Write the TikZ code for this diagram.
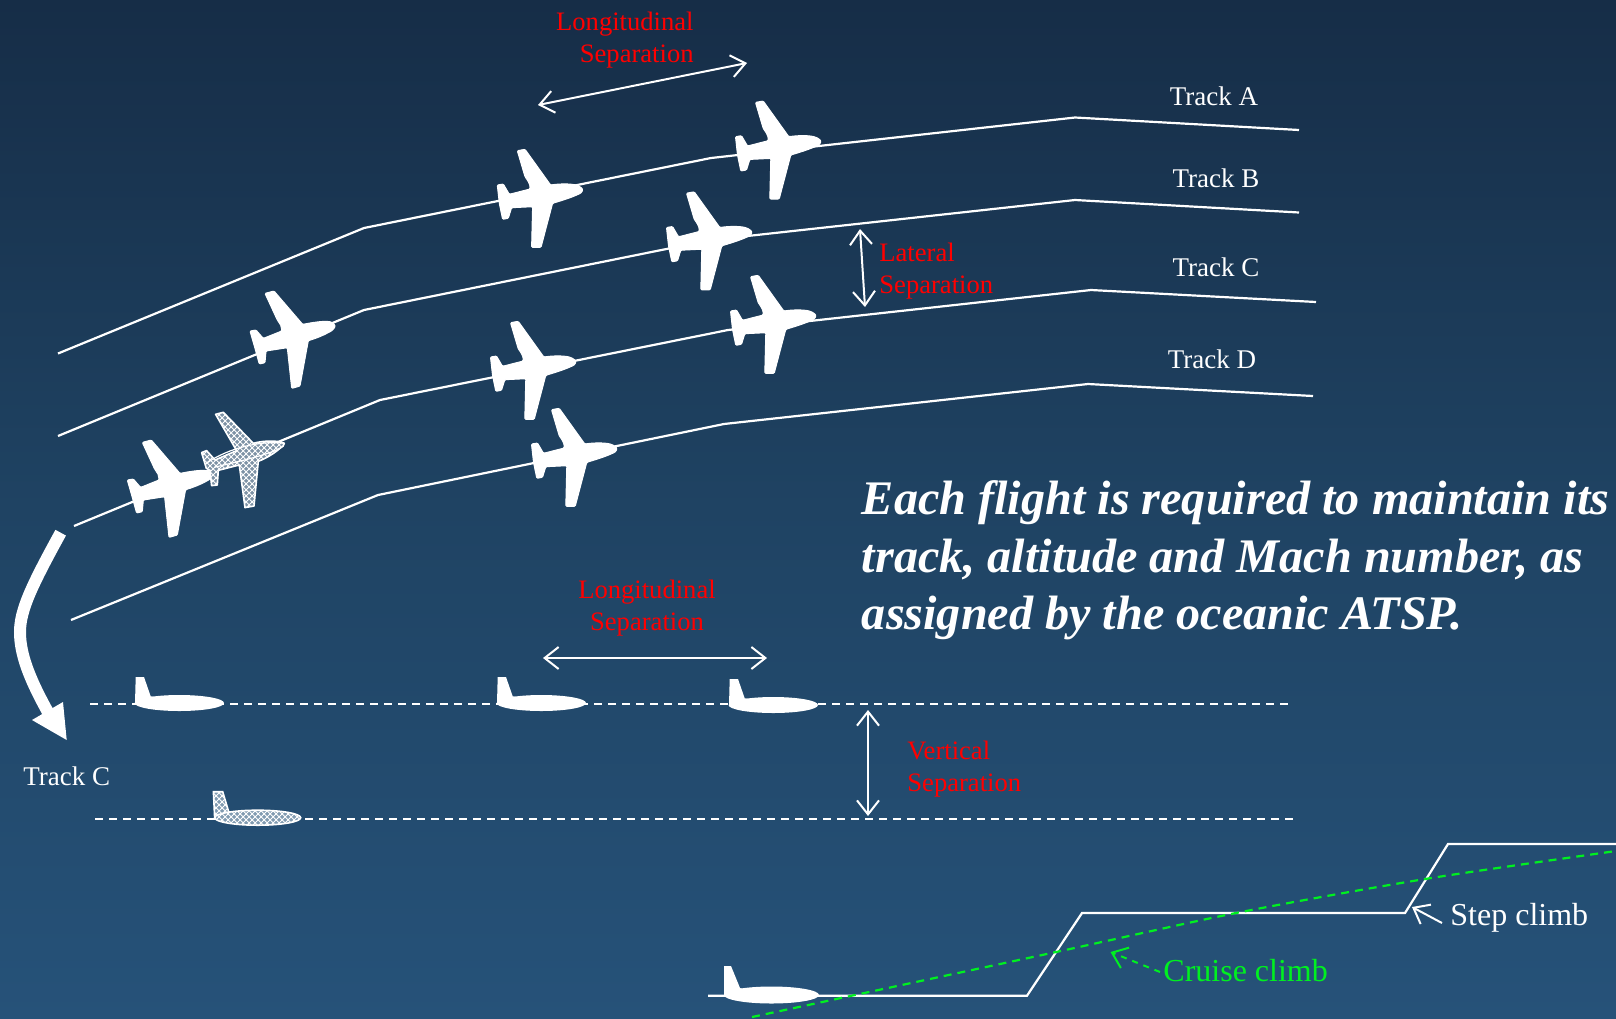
\documentclass[tikz,border=0pt]{standalone}
\usepackage{fontspec}
\setmainfont{Liberation Serif}
\usetikzlibrary{arrows.meta,patterns}
\definecolor{bgtop}{HTML}{162D47}
\definecolor{bgbot}{HTML}{265279}
\definecolor{bgmid}{HTML}{1F4363}
\definecolor{redlab}{HTML}{FF0000}
\definecolor{greenlab}{HTML}{00F020}
\newcommand\ghostoutline{(-68.7,-29)--(-61,-31)--(-31,0)
      .. controls (-20,-3) and (-6,-3) .. (0,0)
      .. controls (0,2) and (-2,4) .. (-4.3,5)
      .. controls (-10,10) and (-18,15) .. (-26,18)
      --(-30.3,62.7)--(-39.3,64.3)--(-45,21.7)--(-66,27)--(-67,41.7)--(-72.7,42.3)--(-74.3,27)--(-78,25)--(-82.7,9.3)--(-77.7,7.3)--(-69.3,16.7)--(-47.7,7.3)--cycle}
\tikzset{
  trackline/.style={draw=white,line width=1.1pt,line join=miter},
  dashline/.style={draw=white,line width=1.1pt,dash pattern=on 4pt off 3pt},
  dblarrow/.style={draw=white,line width=1pt,{Straight Barb[length=7pt,width=11pt]}-{Straight Barb[length=7pt,width=11pt]}},
  tracklab/.style={text=white,inner sep=0,font=\fontsize{13.5}{16}\selectfont},
  redlabel/.style={text=redlab,inner sep=0,font=\fontsize{13.3}{16}\selectfont},
  bigtext/.style={text=white,inner sep=0,align=left,font=\fontsize{24.1}{28.8}\selectfont\bfseries\itshape},
  mesh/.style={pattern=crosshatch,pattern color=white},
  planefill/.style={fill=white,draw=white,line width=0.5pt,line join=round},
  pics/topplane/.style={code={
    \path[planefill,rounded corners=0.5pt] (-65,-39.3)--(-57.3,-40.7)--(-31.7,-5)
      .. controls (-22,-6.5) and (-9,-6.5) .. (-4,-4)
      .. controls (-1,-3) and (0,-1) .. (0,0)
      .. controls (0,2) and (-2,3.5) .. (-4,4.3)
      .. controls (-12,8) and (-22,11) .. (-29.7,13.3)
      --(-41.3,57.3)--(-50.7,57.3)--(-49.7,16.7)--(-70.7,17.7)--(-74,28.3)--(-79.7,29.3)--(-83,13.3)--(-85,-5)--(-79,-6)--(-73,4.3)--(-52.3,-1)
      .. controls (-52,-6) and (-55,-10) .. (-57.3,-13.3)--cycle;
  }},
  pics/tiltplane/.style={code={
    \path[planefill,rounded corners=0.5pt] (-70,-33.3)--(-61,-35.7)--(-32.3,-2.3)
      .. controls (-24,-4) and (-12,-6) .. (-5,-5)
      .. controls (-2,-4) and (0,-2) .. (0,0)
      .. controls (-1,2) and (-3,4) .. (-5,5)
      .. controls (-12,9) and (-20,12) .. (-26.7,14)
      --(-35,59.3)--(-43.3,61.7)--(-47.7,21)--(-69,24.3)--(-70,36)--(-75.7,37.3)--(-80,21.7)--(-85,4.3)--(-79,3.3)--(-71.7,11.7)--(-53.3,4.3)
      .. controls (-53,0) and (-55,-3) .. (-57.7,-6.7)--cycle;
  }},
  pics/sideplane/.style={code={
    \fill[white] (-88.3,-26)--(-80,-26)--(-73.3,-6.7)--(-60,-4)--(-60,4)--(-89,0)--cycle;
    \fill[white] (-44.7,0) ellipse [x radius=44.7,y radius=8];
  }},
  pics/lowplane/.style={code={
    \fill[white] (-95,-29)--(-88,-29)--(-79,-7)--(-70,-4)--(-70,4)--(-95,0)--cycle;
    \fill[white] (-47.5,0) ellipse [x radius=47.5,y radius=8.5];
  }},
  pics/ghosttop/.style={code={
    \path[fill=white!42!bgmid] \ghostoutline;
    \path[mesh] \ghostoutline;
    \draw[white,line width=0.8pt,line join=round] \ghostoutline;
    \draw[white,line width=0.6pt] (-78,20) .. controls (-55,4) and (-22,-3) .. (0,0) (-70,24) .. controls (-45,18) and (-18,12) .. (-4.3,5);
  }},
  pics/ghostside/.style={code={
    \path[fill=white!42!bgbot] (-87.3,-26)--(-78,-26)--(-72,-6)--(-60,-4)--(-60,4)--(-86,1)--cycle;
    \path[mesh,draw=white,line width=0.8pt] (-87.3,-26)--(-78,-26)--(-72,-6)--(-60,-4)--(-60,4)--(-86,1)--cycle;
    \path[fill=white!42!bgbot] (-43,0) ellipse [x radius=43,y radius=7.5];
    \path[mesh,draw=white,line width=0.8pt] (-43,0) ellipse [x radius=43,y radius=7.5];
  }}
}
\begin{document}
\begin{tikzpicture}[x=0.5pt,y=-0.5pt]
\useasboundingbox (0,0) rectangle (1616,1018);
\clip (0,0) rectangle (1616,1018);
\shade[top color=bgtop,bottom color=bgbot,middle color=bgmid] (0,0) rectangle (1616,1018);

% coordinates for connector ends
\coordinate (ta0) at (58,353.5);  \coordinate (ta1) at (364,228); \coordinate (ta2) at (711,158); \coordinate (ta3) at (1075,117.5); \coordinate (ta4) at (1299,130);
\coordinate (tb0) at (58,436);    \coordinate (tb1) at (364,310); \coordinate (tb2) at (711,240); \coordinate (tb3) at (1075,200);   \coordinate (tb4) at (1299,212.5);
\coordinate (tc0) at (74,526);    \coordinate (tc1) at (380,400); \coordinate (tc2) at (728,330); \coordinate (tc3) at (1091,290);   \coordinate (tc4) at (1316,302);
\coordinate (td0) at (71,620);    \coordinate (td1) at (378,495); \coordinate (td2) at (724,424); \coordinate (td3) at (1088,384);   \coordinate (td4) at (1313,396);

\draw[trackline] (ta0)--(ta1)--(ta2)--(ta3)--(ta4);
\draw[trackline] (tb0)--(tb1)--(tb2)--(tb3)--(tb4);
\draw[trackline] (tc0)--(tc1)--(tc2)--(tc3)--(tc4);
\draw[trackline] (td0)--(td1)--(td2)--(td3)--(td4);

\coordinate (da0) at (90,704);  \coordinate (da1) at (1289,704);
\coordinate (db0) at (95,819);  \coordinate (db1) at (1294,819);
\draw[dashline] (da0)--(da1);
\draw[dashline] (db0)--(db1);

% separation arrows
\coordinate (lonA) at (538,105); \coordinate (lonB) at (747,63);
\coordinate (latA) at (860,229); \coordinate (latB) at (865,307);
\coordinate (lowA) at (543,658); \coordinate (lowB) at (767,658);
\coordinate (verA) at (868,710); \coordinate (verB) at (868,816);
\draw[dblarrow] (lonA)--(lonB);
\draw[dblarrow] (latA)--(latB);
\draw[dblarrow] (lowA)--(lowB);
\draw[dblarrow] (verA)--(verB);

% planes seen from above
\pic (pa1) at (582.3,190) {topplane};
\pic (pa2) at (820.5,141.7) {topplane};
\pic (pb1) at (335,326.7) {tiltplane};
\pic (pb2) at (751.5,232.5) {topplane};
\pic (pc1) at (575.5,362) {topplane};
\pic (pc2) at (815.5,316) {topplane};
\pic (pc3) at (212.3,475.7) {tiltplane};
\pic (pd1) at (616.5,449) {topplane};
\pic (pg1) at (284.3,443.3) {ghosttop};

% planes seen from the side
\pic (ps1) at (224,703) {sideplane};
\pic (ps2) at (586,703) {sideplane};
\pic (ps3) at (818,705) {sideplane};
\pic (pg2) at (300.7,817.7) {ghostside};

% big turn arrow
\coordinate (bigS) at (60.7,532.7);
\coordinate (bigM) at (20,632);
\coordinate (bigE) at (49,714);
\coordinate (bigT) at (66.7,740);
\coordinate (bigL) at (32,720);
\coordinate (bigR) at (63,702);
\draw[white,line width=6pt] (bigS) .. controls (32,585) and (20,610) .. (bigM) .. controls (20,655) and (30,680) .. (bigE);
\fill[white] (bigL)--(bigR)--(bigT)--cycle;

% climb profile
\coordinate (st0) at (708,995.7); \coordinate (st1) at (1027,995.7); \coordinate (st2) at (1082,913);
\coordinate (st3) at (1405,913);  \coordinate (st4) at (1448,844);   \coordinate (st5) at (1616,844);
\draw[trackline] (st0)--(st1)--(st2)--(st3)--(st4)--(st5);
\coordinate (cr0) at (752,1017); \coordinate (cr1) at (1056,952); \coordinate (cr2) at (1236,913); \coordinate (cr3) at (1425,879); \coordinate (cr4) at (1616,851);
\draw[greenlab,line width=1.1pt,dash pattern=on 4pt off 3pt] plot[smooth,tension=0.5] coordinates {(cr0)(cr1)(cr2)(cr3)(cr4)};
\pic (ps4) at (819,995) {lowplane};

% labels
\node[tracklab] (lta) at (1214,96) {Track A};
\node[tracklab] (ltb) at (1216,178) {Track B};
\node[tracklab] (ltc) at (1216,267) {Track C};
\node[tracklab] (ltd) at (1212,359) {Track D};
\node[tracklab] (ltc2) at (66.7,776) {Track C};

\node[redlabel,align=right,anchor=east] (rl1) at (694,40.5) {Longitudinal\\Separation};
\node[redlabel,align=left,anchor=west] (rl2) at (879,271.5) {Lateral\\Separation};
\node[redlabel,align=center] (rl3) at (647,608.5) {Longitudinal\\Separation};
\node[redlabel,align=left,anchor=west] (rl4) at (907,769.5) {Vertical\\Separation};

\node[bigtext,anchor=west] (big) at (861.5,560.5) {Each flight is required to maintain its\\track, altitude and Mach number, as\\assigned by the oceanic ATSP.};

\node[text=white,inner sep=0,anchor=west,font=\fontsize{16}{19}\selectfont] (step) at (1450,918) {Step climb};
\node[text=greenlab,inner sep=0,anchor=west,font=\fontsize{16}{19}\selectfont] (cruise) at (1163,971) {Cruise climb};

\coordinate (stT) at (1442,923);
\coordinate (stH) at (1412,907);
\coordinate (crT) at (1160,972);
\coordinate (crH) at (1110.5,952);
\draw[white,line width=1pt,-{Straight Barb[length=7pt,width=11pt]}] (stT) -- (stH);
\draw[greenlab,line width=1pt,dash pattern=on 3pt off 3pt,-{Straight Barb[length=7pt,width=11pt]}] (crT) -- (crH);
\end{tikzpicture}
\end{document}
